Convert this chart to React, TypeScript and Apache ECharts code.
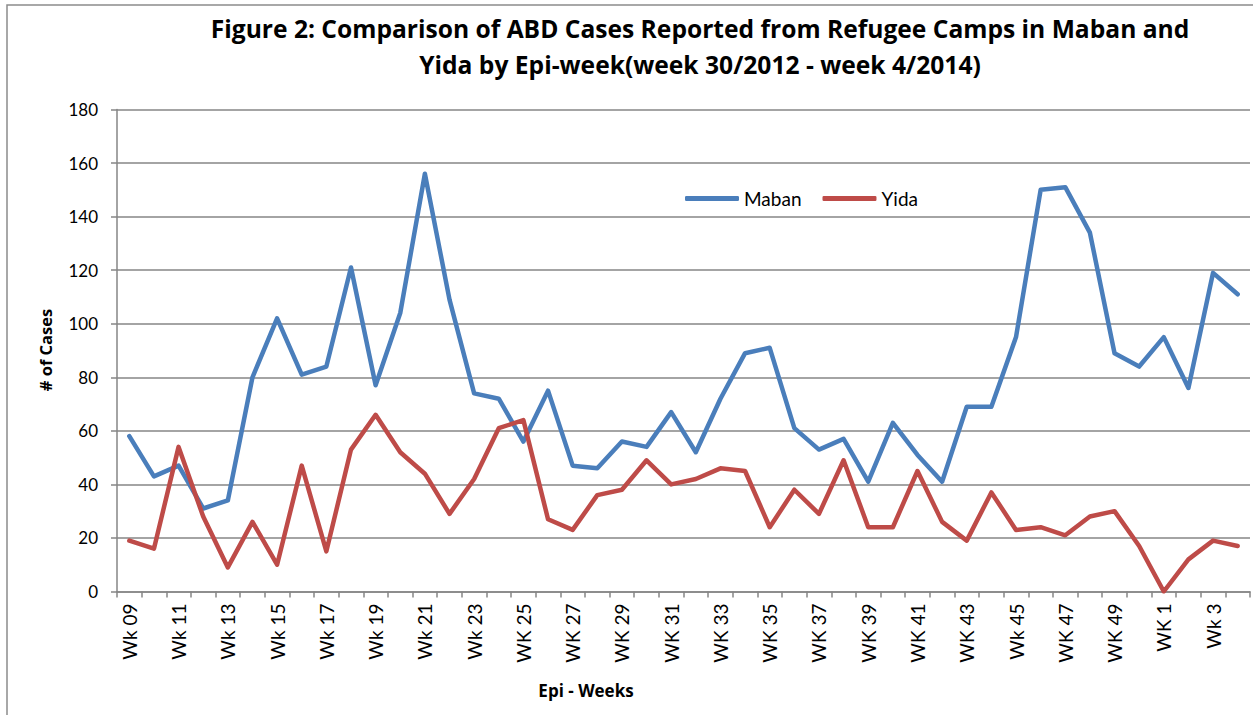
import React, { useEffect, useRef } from "react";
import * as echarts from "echarts";

const weeks = [
  "Wk 09", "Wk 10", "Wk 11", "Wk 12", "Wk 13", "Wk 14", "Wk 15", "Wk 16", "Wk 17", "Wk 18",
  "Wk 19", "Wk 20", "Wk 21", "Wk 22", "Wk 23", "Wk 24", "WK 25", "WK 26", "WK 27", "WK 28",
  "WK 29", "WK 30", "WK 31", "WK 32", "WK 33", "WK 34", "WK 35", "WK 36", "WK 37", "WK 38",
  "WK 39", "WK 40", "WK 41", "WK 42", "WK 43", "WK 44", "Wk 45", "Wk 46", "WK 47", "WK 48",
  "WK 49", "WK 50", "WK 1", "WK 2", "Wk 3", "Wk 4",
];

const maban = [
  58, 43, 47, 31, 34, 80, 102, 81, 84, 121,
  77, 104, 156, 109, 74, 72, 56, 75, 47, 46,
  56, 54, 67, 52, 72, 89, 91, 61, 53, 57,
  41, 63, 51, 41, 69, 69, 95, 150, 151, 134,
  89, 84, 95, 76, 119, 111,
];

const yida = [
  19, 16, 54, 28, 9, 26, 10, 47, 15, 53,
  66, 52, 44, 29, 42, 61, 64, 27, 23, 36,
  38, 49, 40, 42, 46, 45, 24, 38, 29, 49,
  24, 24, 45, 26, 19, 37, 23, 24, 21, 28,
  30, 17, 0, 12, 19, 17,
];

const titleLines = [
  "Figure 2: Comparison of ABD Cases Reported from Refugee Camps in Maban and",
  "Yida by Epi-week(week 30/2012 - week 4/2014)",
];

const FONT = "Lato, 'Open Sans', sans-serif";
const BOLD_FONT = "'Open Sans', Lato, sans-serif";

export default function App() {
  const ref = useRef<HTMLDivElement>(null);
  useEffect(() => {
    if (!ref.current) return;
    const chart = echarts.init(ref.current, null, { renderer: "svg" });
    chart.setOption({
      animation: false,
      backgroundColor: "#ffffff",
      textStyle: { fontFamily: FONT },
      graphic: [
        {
          type: "rect",
          shape: { x: 7, y: 5, width: 1260, height: 730 },
          style: { fill: "none", stroke: "#8c8c8c", lineWidth: 1.5 },
          silent: true,
        },
        {
          type: "text",
          x: 700,
          y: 28,
          style: {
            text: titleLines[0],
            align: "center",
            verticalAlign: "middle",
            font: `bold 24.6px ${BOLD_FONT}`,
            fill: "#000000",
          },
        },
        {
          type: "text",
          x: 700,
          y: 64,
          style: {
            text: titleLines[1],
            align: "center",
            verticalAlign: "middle",
            font: `bold 24.6px ${BOLD_FONT}`,
            fill: "#000000",
          },
        },
        {
          type: "text",
          style: {
            text: "# of Cases",
            font: `bold 16.5px ${BOLD_FONT}`,
            fill: "#000000",
            align: "center",
            verticalAlign: "middle",
          },
          x: 45,
          y: 350,
          rotation: Math.PI / 2,
        },
        {
          type: "text",
          style: {
            text: "Epi - Weeks",
            font: `bold 17px ${BOLD_FONT}`,
            fill: "#000000",
            align: "center",
            verticalAlign: "middle",
          },
          x: 586,
          y: 690,
        },
      ],
      legend: {
        data: ["Maban", "Yida"],
        left: 680,
        top: 184,
        itemWidth: 54,
        itemHeight: 5,
        itemGap: 21,
        textStyle: { fontSize: 19, color: "#000", fontFamily: FONT },
        icon: "roundRect",
      },
      grid: { left: 117, right: 3, top: 109.5, bottom: 123.5, containLabel: false },
      xAxis: {
        type: "category",
        data: weeks,
        boundaryGap: true,
        axisLine: { lineStyle: { color: "#868686", width: 1.5 } },
        axisTick: { show: true, interval: 0, length: 6, lineStyle: { color: "#868686", width: 1.5 } },
        axisLabel: {
          interval: 1,
          rotate: 90,
          fontSize: 19,
          color: "#000",
          margin: 12,
          fontFamily: FONT,
        },
      },
      yAxis: {
        type: "value",
        min: 0,
        max: 180,
        interval: 20,
        axisLine: { show: true, lineStyle: { color: "#868686", width: 1.5 } },
        axisTick: { show: true, length: 6, lineStyle: { color: "#868686", width: 1.5 } },
        axisLabel: { fontSize: 17, color: "#000", margin: 19, fontFamily: FONT },
        splitLine: { lineStyle: { color: "#868686", width: 1.5 } },
      },
      series: [
        {
          name: "Maban",
          type: "line",
          data: maban,
          symbol: "none",
          itemStyle: { color: "#4A7EBB" },
          lineStyle: { color: "#4A7EBB", width: 4.5, cap: "round", join: "round" },
        },
        {
          name: "Yida",
          type: "line",
          data: yida,
          symbol: "none",
          itemStyle: { color: "#BE4B48" },
          lineStyle: { color: "#BE4B48", width: 4.5, cap: "round", join: "round" },
        },
      ],
    });
    return () => chart.dispose();
  }, []);
  return (
    <div
      ref={ref}
      style={{ position: "fixed", left: 0, top: 0, width: 1253, height: 715 }}
    />
  );
}
